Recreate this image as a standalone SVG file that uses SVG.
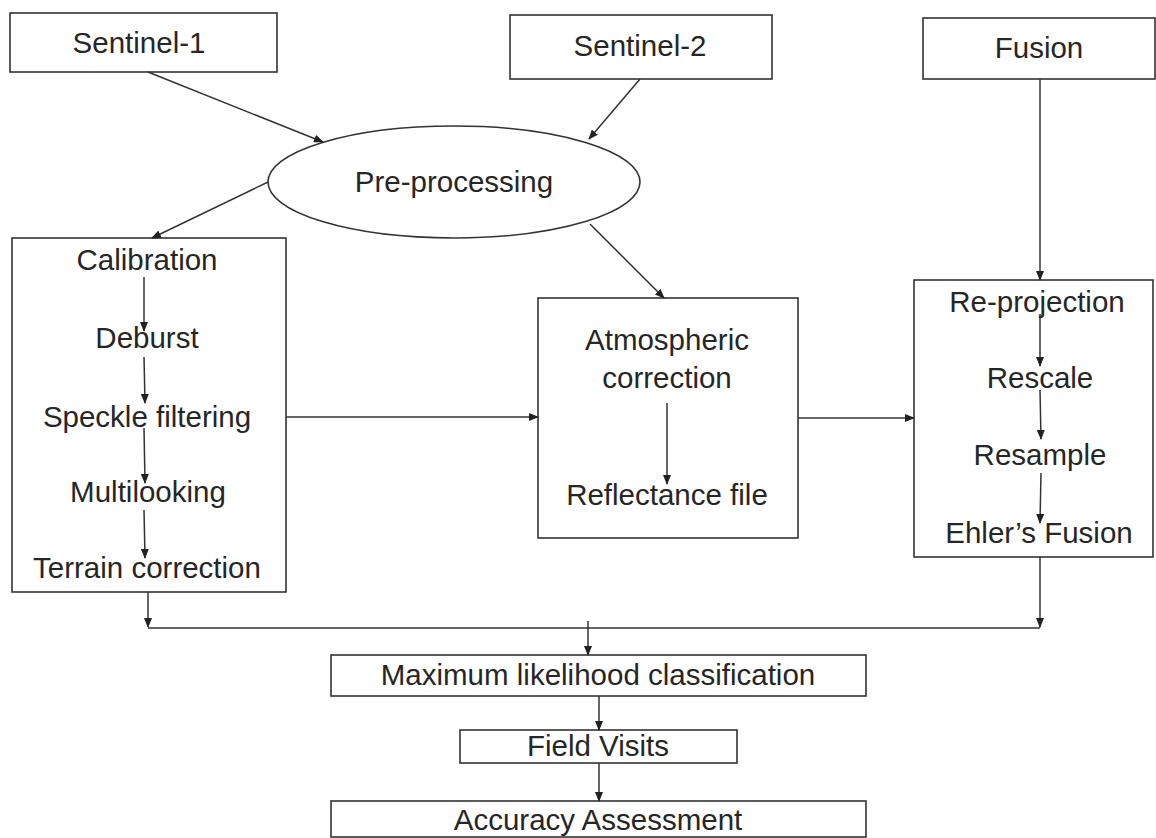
<svg xmlns="http://www.w3.org/2000/svg" width="1156" height="838" viewBox="0 0 1156 838">
<defs>
<marker id="ah" markerWidth="10" markerHeight="8" refX="9" refY="4" orient="auto" markerUnits="userSpaceOnUse">
<path d="M0,0 L10,4 L0,8 Z" fill="#222"/>
</marker>
<style>
.box{fill:#fff;stroke:#333;stroke-width:1.6}
.t{font-family:"Liberation Sans",Arial,sans-serif;font-size:29.5px;fill:#262626;text-anchor:middle}
.c{stroke:#333;stroke-width:1.5;fill:none;marker-end:url(#ah)}
.l{stroke:#333;stroke-width:1.5;fill:none}
</style>
</defs>
<rect width="1156" height="838" fill="#fff"/>
<g id="sentinel1"><rect class="box" x="10" y="13" width="267" height="59"/><text class="t" x="139" y="53">Sentinel-1</text></g>
<g id="sentinel2"><rect class="box" x="510" y="15" width="262" height="64"/><text class="t" x="640" y="56">Sentinel-2</text></g>
<g id="fusion"><rect class="box" x="923" y="18" width="232" height="61"/><text class="t" x="1039" y="58">Fusion</text></g>
<g id="preprocessing"><ellipse class="box" cx="454" cy="182" rx="186" ry="56"/><text class="t" x="454" y="192">Pre-processing</text></g>
<g id="sar"><rect class="box" x="12" y="238" width="274" height="354"/>
<text class="t" x="147" y="270">Calibration</text>
<text class="t" x="147" y="348">Deburst</text>
<text class="t" x="147" y="427">Speckle filtering</text>
<text class="t" x="148" y="502">Multilooking</text>
<text class="t" x="147" y="578">Terrain correction</text></g>
<g id="optical"><rect class="box" x="538" y="298" width="260" height="240"/>
<text class="t" x="667" y="350">Atmospheric</text>
<text class="t" x="667" y="388">correction</text>
<text class="t" x="667" y="505">Reflectance file</text></g>
<g id="fusionsteps"><rect class="box" x="914" y="280" width="239" height="277"/>
<text class="t" x="1037" y="312">Re-projection</text>
<text class="t" x="1040" y="388">Rescale</text>
<text class="t" x="1040" y="465">Resample</text>
<text class="t" x="1039" y="543">Ehler’s Fusion</text></g>
<g id="mlc"><rect class="box" x="331" y="655" width="535" height="41"/><text class="t" x="598" y="685">Maximum likelihood classification</text></g>
<g id="field"><rect class="box" x="460" y="730" width="277" height="33"/><text class="t" x="598" y="756">Field Visits</text></g>
<g id="accuracy"><rect class="box" x="331" y="801" width="535" height="36"/><text class="t" x="598" y="830">Accuracy Assessment</text></g>
<g id="connectors">
<line class="c" x1="148" y1="72" x2="323" y2="142"/>
<line class="c" x1="640" y1="79" x2="589" y2="139"/>
<line class="c" x1="268" y1="182" x2="152" y2="238"/>
<line class="c" x1="590" y1="224" x2="664" y2="298"/>
<line class="c" x1="1040" y1="79" x2="1040" y2="280"/>
<line class="c" x1="144" y1="277" x2="144" y2="331"/>
<line class="c" x1="144" y1="357" x2="145" y2="403"/>
<line class="c" x1="144" y1="428" x2="145" y2="483"/>
<line class="c" x1="144" y1="510" x2="145" y2="558"/>
<line class="c" x1="667" y1="403" x2="667" y2="484"/>
<line class="c" x1="1040" y1="314" x2="1040" y2="366"/>
<line class="c" x1="1040" y1="390" x2="1041" y2="439"/>
<line class="c" x1="1041" y1="473" x2="1040" y2="523"/>
<line class="c" x1="286" y1="417" x2="538" y2="417"/>
<line class="c" x1="798" y1="418" x2="914" y2="418"/>
<line class="c" x1="148" y1="592" x2="148" y2="627"/>
<line class="c" x1="1040" y1="557" x2="1040" y2="627"/>
<line class="l" x1="148" y1="628" x2="1040" y2="628"/>
<line class="c" x1="588" y1="621" x2="588" y2="655"/>
<line class="c" x1="599" y1="696" x2="599" y2="730"/>
<line class="c" x1="599" y1="763" x2="599" y2="801"/>
</g>
</svg>
